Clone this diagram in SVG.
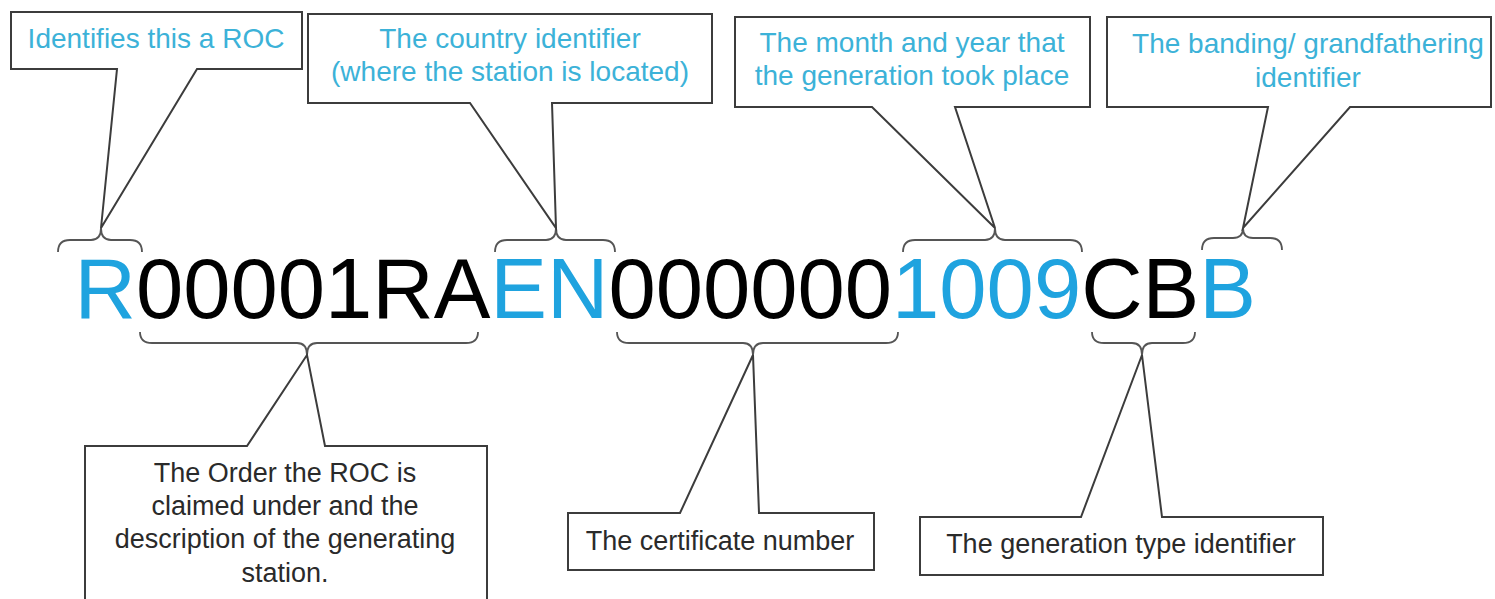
<svg xmlns="http://www.w3.org/2000/svg" width="1495" height="599" viewBox="0 0 1495 599">
<style>
  .box { fill: #ffffff; stroke: #3c3c3c; stroke-width: 2; stroke-linejoin: miter; }
  .brace { fill: none; stroke: #555555; stroke-width: 1.8; }
  .lbl { font-family: "Liberation Sans", Arial, sans-serif; font-size: 28px; fill: #3cb2d8; text-anchor: middle; }
  .lblk { font-family: "Liberation Sans", Arial, sans-serif; font-size: 27px; fill: #2a2a2a; text-anchor: middle; }
  .code { font-family: "Liberation Sans", Arial, sans-serif; font-size: 85px; fill: #000000; }
  .blue { fill: #1fa3df; }
</style>
<rect width="1495" height="599" fill="#ffffff"/>

<g id="connectors">
  <path class="brace" d="M58,252 Q58,240 70,240 H91 Q101,240 101,228 Q101,240 111,240 H130 Q142,240 142,252"/>
  <path class="brace" d="M495,252 Q495,240 507,240 H546 Q556,240 556,228 Q556,240 566,240 H603 Q615,240 615,252"/>
  <path class="brace" d="M903,252 Q903,240 915,240 H985 Q995,240 995,228 Q995,240 1005,240 H1070 Q1082,240 1082,252"/>
  <path class="brace" d="M1202,250 Q1202,238 1214,238 H1233 Q1243,238 1243,228 Q1243,238 1253,238 H1270 Q1282,238 1282,250"/>
  <path class="brace" d="M140,332 Q140,343 152,343 H297 Q307,343 307,355 Q307,343 317,343 H466 Q478,343 478,332"/>
  <path class="brace" d="M617,332 Q617,343 629,343 H743 Q753,343 753,355 Q753,343 763,343 H886 Q898,343 898,332"/>
  <path class="brace" d="M1092,332 Q1092,343 1104,343 H1132 Q1142,343 1142,355 Q1142,343 1152,343 H1183 Q1195,343 1195,332"/>
</g>

<g id="code">
  <text class="code" x="74.5" y="318"><tspan class="blue">R</tspan>00001RA<tspan class="blue">EN</tspan>000000<tspan class="blue">1009</tspan>CB<tspan class="blue">B</tspan></text>
</g>

<g id="node-roc">
  <path class="box" d="M11,12 H302 V69 H197 L101,228 L117,69 H11 Z"/>
  <text class="lbl" x="156" y="48">Identifies this a ROC</text>
</g>

<g id="node-country">
  <path class="box" d="M308,14 H712 V103 H552 L556,228 L470,103 H308 Z"/>
  <text class="lbl" x="510" y="48">The country identifier</text>
  <text class="lbl" x="510" y="81">(where the station is located)</text>
</g>

<g id="node-month">
  <path class="box" d="M735,17 H1090 V107 H955 L995,228 L872,107 H735 Z"/>
  <text class="lbl" x="912" y="52">The month and year that</text>
  <text class="lbl" x="912" y="85">the generation took place</text>
</g>

<g id="node-banding">
  <path class="box" d="M1107,17 H1491 V107 H1350 L1243,228 L1268,107 H1107 Z"/>
  <text class="lbl" x="1308" y="53">The banding/ grandfathering</text>
  <text class="lbl" x="1308" y="87">identifier</text>
</g>

<g id="node-order">
  <path class="box" d="M85,600 V446 H247 L307,355 L325,446 H487 V600"/>
  <text class="lblk" x="285" y="482">The Order the ROC is</text>
  <text class="lblk" x="285" y="515">claimed under and the</text>
  <text class="lblk" x="285" y="548">description of the generating</text>
  <text class="lblk" x="285" y="582">station.</text>
</g>

<g id="node-certificate">
  <path class="box" d="M568,513 H680 L753,355 L759,513 H874 V570 H568 Z"/>
  <text class="lblk" x="720" y="550">The certificate number</text>
</g>

<g id="node-gentype">
  <path class="box" d="M920,517 H1081 L1142,355 L1162,517 H1323 V575 H920 Z"/>
  <text class="lblk" x="1121" y="553">The generation type identifier</text>
</g>
</svg>
